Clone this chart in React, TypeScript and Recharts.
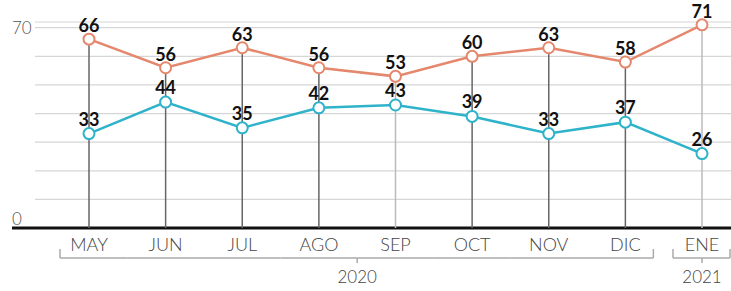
import { ComposedChart, Line, XAxis, YAxis, CartesianGrid, LabelList } from "recharts"

const months = ["MAY", "JUN", "JUL", "AGO", "SEP", "OCT", "NOV", "DIC", "ENE"]
const years = ["2020", "2020", "2020", "2020", "2020", "2020", "2020", "2020", "2021"]
const upper = [66, 56, 63, 56, 53, 60, 63, 58, 71]
const lower = [33, 44, 35, 42, 43, 39, 33, 37, 26]
const yTicks = [0, 10, 20, 30, 40, 50, 60, 70]
const yLabels = [0, 70]

const data = months.map((m, i) => ({ month: m, year: years[i], upper: upper[i], lower: lower[i] }))

const W = 731
const H = 291
const LEFT = 12
const PAD_L = 77
const PAD_R = 29
const STEP = (W - LEFT - PAD_L - PAD_R) / (months.length - 1)
const BASE_Y = 228
const lightLines = ["SEP", "ENE"]

const ORANGE = "#e5876c"
const BLUE = "#2eb3cb"
const FONT = "Lato, 'Open Sans', sans-serif"

const YTick = (props: any) => {
  const v = Number(props.payload?.value)
  if (!yLabels.includes(v)) return <g />
  return (
    <text x={12} y={props.y} dy={v === 0 ? -3 : 6} fontSize={17} fill="#555" fontFamily={FONT} fontWeight={300}>
      {v}
    </text>
  )
}

const MonthTick = (props: any) => {
  const { x, y, index } = props
  const yr = years[index]
  const first = index === 0 || years[index - 1] !== yr
  const last = index === years.length - 1 || years[index + 1] !== yr
  const left = first ? x - 29 : x - STEP / 2
  const right = last ? x + 28 : x + STEP / 2
  const count = years.filter((d) => d === yr).length
  const cx = x + ((count - 1) * STEP) / 2
  return (
    <g>
      <text x={x} y={y + 23} textAnchor="middle" fontSize={18} fill="#444" fontFamily={FONT} fontWeight={300}>
        {props.payload.value}
      </text>
      <line x1={left} x2={right} y1={y + 30} y2={y + 30} stroke="#aaa" strokeWidth={1.5} />
      {first && <line x1={left} x2={left} y1={y + 21} y2={y + 30} stroke="#aaa" strokeWidth={1.5} />}
      {last && <line x1={right} x2={right} y1={y + 21} y2={y + 30} stroke="#aaa" strokeWidth={1.5} />}
      {first && (
        <g>
          <line x1={cx} x2={cx} y1={y + 30} y2={y + 35} stroke="#aaa" strokeWidth={1.5} />
          <text x={cx} y={y + 55} textAnchor="middle" fontSize={17} fill="#444" fontFamily={FONT} fontWeight={300}>
            {yr}
          </text>
        </g>
      )}
    </g>
  )
}

const UpperDot = (props: any) => {
  const { cx, cy, payload } = props
  const light = lightLines.includes(payload.month)
  return (
    <g key={`u-${payload.month}`}>
      <line x1={cx} x2={cx} y1={cy} y2={BASE_Y} stroke={light ? "#bbb" : "#666"} strokeWidth={1.5} />
      <circle cx={cx} cy={cy} r={5.5} fill="#fff" stroke={ORANGE} strokeWidth={2} />
    </g>
  )
}

const GridLine = (props: any) => (
  <line key={`g-${props.y1}`} x1={35} x2={W} y1={props.y1} y2={props.y2} stroke="#d6d6d6" strokeWidth={1.2} />
)

export default function App() {
  return (
    <div style={{ position: "absolute", left: 0, top: 0, background: "#fff" }}>
      <ComposedChart width={W} height={H} data={data} margin={{ top: 22, right: 0, bottom: 0, left: 0 }}>
        <CartesianGrid vertical={false} horizontal={GridLine} />
        <XAxis
          dataKey="month"
          scale="point"
          padding={{ left: PAD_L, right: PAD_R }}
          height={63}
          tickSize={0}
          tickMargin={0}
          tickLine={false}
          axisLine={{ stroke: "#111", strokeWidth: 3 }}
          tick={MonthTick}
          interval={0}
        />
        <YAxis width={LEFT} domain={[0, 72]} ticks={yTicks} axisLine={false} tickLine={false} tick={YTick} />
        <Line
          dataKey="upper"
          stroke={ORANGE}
          strokeWidth={2.5}
          dot={UpperDot}
          activeDot={false}
          isAnimationActive={false}
        >
          <LabelList dataKey="upper" position="top" offset={7} fontSize={18} fontWeight={700} fill="#111" fontFamily={FONT} />
        </Line>
        <Line
          dataKey="lower"
          stroke={BLUE}
          strokeWidth={2.5}
          dot={{ r: 5.5, fill: "#fff", stroke: BLUE, strokeWidth: 2 }}
          activeDot={false}
          isAnimationActive={false}
        >
          <LabelList dataKey="lower" position="top" offset={8} fontSize={18} fontWeight={700} fill="#111" fontFamily={FONT} />
        </Line>
      </ComposedChart>
    </div>
  )
}
